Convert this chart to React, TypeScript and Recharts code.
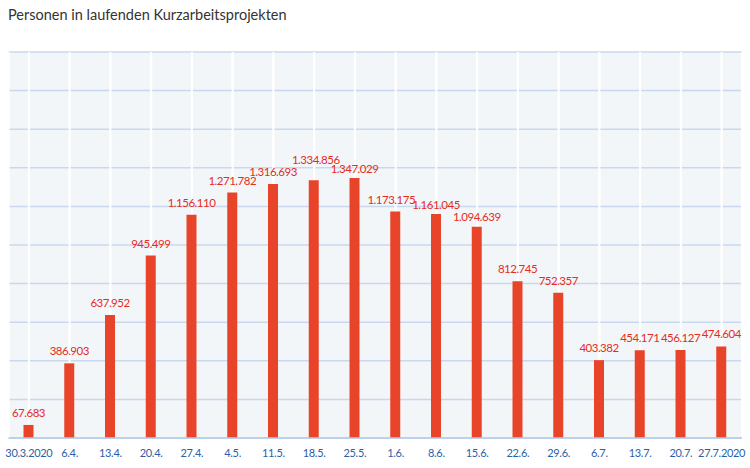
import { BarChart, Bar, XAxis, YAxis, CartesianGrid, LabelList } from "recharts";

const weeks = [
  "30.3.2020", "6.4.", "13.4.", "20.4.", "27.4.", "4.5.", "11.5.", "18.5.", "25.5.",
  "1.6.", "8.6.", "15.6.", "22.6.", "29.6.", "6.7.", "13.7.", "20.7.", "27.7.2020",
];

const persons = [
  67683, 386903, 637952, 945499, 1156110, 1271782, 1316693, 1334856, 1347029,
  1173175, 1161045, 1094639, 812745, 752357, 403382, 454171, 456127, 474604,
];

const yTicks = [0, 200000, 400000, 600000, 800000, 1000000, 1200000, 1400000, 1600000, 1800000, 2000000];

const data = weeks.map((w, i) => ({ week: w, persons: persons[i] }));

// labels nudged by hand in the original so crowded ones don't collide
const LABEL_LIFT: Record<number, number> = { 7: 8, 8: -3, 10: -3, 11: -2 };
const LABEL_SHIFT: Record<number, number> = { 7: 2, 9: -4 };

// 1347029 -> "1.347.029"
function formatNum(v: number): string {
  return String(v).replace(/\B(?=(\d{3})+(?!\d))/g, ".");
}

const FONT = "Lato, 'Open Sans', sans-serif";

function BarLabel(props: any) {
  const { x, y, width, value, index } = props;
  const cx = Number(x) + Number(width) / 2 + (LABEL_SHIFT[index] ?? 0);
  const by = Number(y) - 8 - (LABEL_LIFT[index] ?? 0);
  return (
    <text
      x={cx}
      y={by}
      textAnchor="middle"
      fontSize={11.5}
      fill="#e42d1c"
      fontFamily={FONT}
      letterSpacing={-0.5}
    >
      {formatNum(Number(value))}
    </text>
  );
}

export default function App() {
  return (
    <div style={{ position: "absolute", left: 0, top: 0, width: 750, height: 468, background: "#fff", fontFamily: FONT }}>
      <div style={{ position: "absolute", left: 8, top: 6, fontSize: 14.5, color: "#333" }}>
        Personen in laufenden Kurzarbeitsprojekten
      </div>
      <BarChart width={750} height={468} data={data} margin={{ top: 52, right: 8, left: 8.5, bottom: 0 }}>
        <CartesianGrid fill="#f3f6f9" stroke="#fff" strokeWidth={2} horizontal={false} />
        <CartesianGrid stroke="#c9d8ef" strokeWidth={1.5} vertical={false} />
        <CartesianGrid stroke="#fff" strokeWidth={2} horizontal={false} />
        <XAxis
          dataKey="week"
          axisLine={{ stroke: "#b3cbe8", strokeWidth: 1.5 }}
          tickLine={false}
          interval={0}
          tick={{ fontSize: 11, fill: "#2a5fa8", fontFamily: FONT, letterSpacing: -0.3 }}
          tickMargin={5}
          height={30}
        />
        <YAxis hide domain={[0, 2000000]} ticks={yTicks} />
        <Bar dataKey="persons" fill="#e8442a" barSize={10} isAnimationActive={false}>
          <LabelList dataKey="persons" content={BarLabel} />
        </Bar>
      </BarChart>
    </div>
  );
}
